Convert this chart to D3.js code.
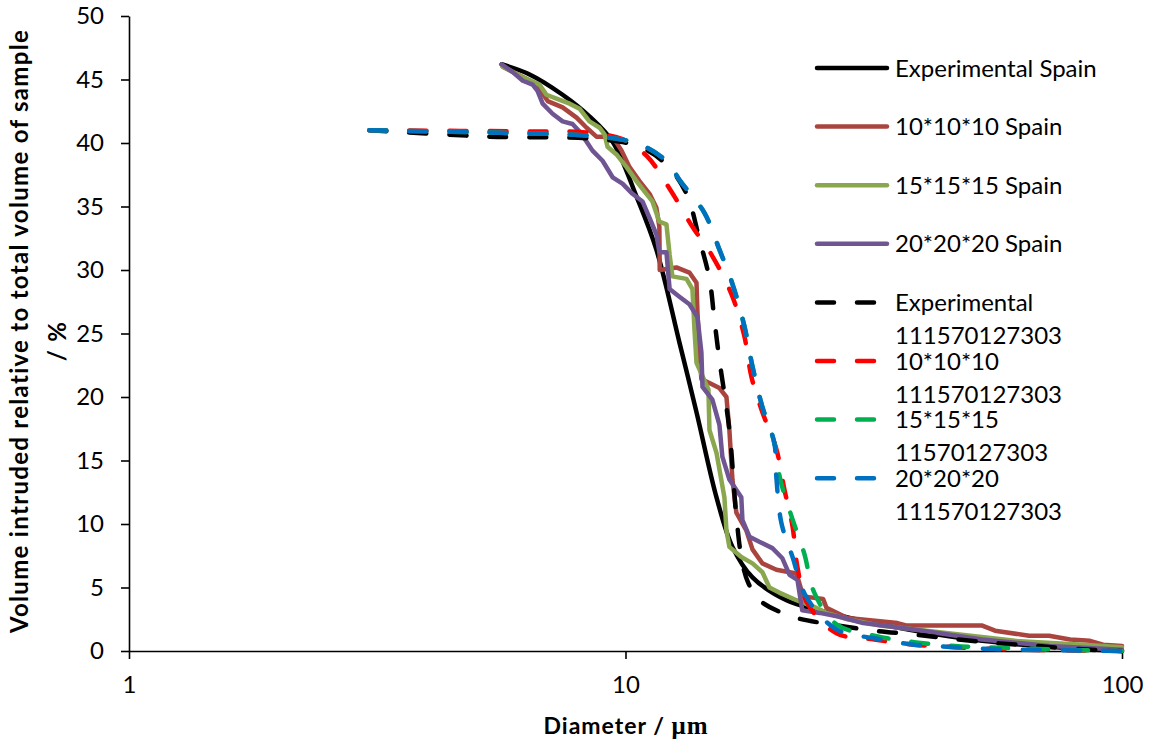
<!DOCTYPE html>
<html>
<head>
<meta charset="utf-8">
<script src="https://cdn.jsdelivr.net/npm/d3@7"></script>
<style>
  body { margin: 0; background: #fff; }
  svg { display: block; font-family: Lato, "Open Sans", sans-serif; }
</style>
</head>
<body>
<div id="chart"></div>
<script>
// Each series: [diameter µm, volume %]
const expSpain = [
  [5.63, 46.2], [6.41, 45.4], [7.47, 43.8], [8.46, 42.1], [9.42, 40.1],
  [10.52, 35.8], [11.54, 31.6], [12.84, 24.3], [13.9, 18.8], [15.25, 12.1],
  [16.42, 8.2], [18.02, 5.8], [21.1, 4.0], [24.6, 3.2], [32.6, 2.1],
  [52.3, 0.8], [100, 0]
];
const sim10Spain = [
  [5.66, 46.0], [6.21, 45.2], [6.62, 44.6], [6.97, 43.3], [7.47, 42.8],
  [7.97, 42.0], [8.35, 41.2], [8.74, 40.5], [9.42, 40.5], [9.82, 39.4],
  [10.19, 38.1], [10.67, 37.0], [11.18, 36.0], [11.54, 34.9], [11.7, 33.4],
  [11.72, 30.0], [12.66, 30.2], [13.45, 29.8], [13.9, 29.0], [13.96, 26.7],
  [14.09, 23.5], [14.22, 21.4], [14.76, 21.1], [15.46, 20.7], [15.97, 20.0],
  [16.19, 17.4], [16.42, 13.5], [16.72, 10.9], [17.51, 9.5], [18.02, 8.0],
  [18.87, 6.9], [20.13, 6.4], [22.1, 6.1], [22.8, 4.3], [25.0, 4.1],
  [25.4, 3.4], [28.0, 2.6], [35.3, 2.2], [36.9, 2.0], [52.3, 2.0],
  [55.5, 1.6], [65.0, 1.2], [71.3, 1.2], [78.6, 0.9], [86.2, 0.8],
  [91.6, 0.5], [100, 0.4]
];
const sim15Spain = [
  [5.66, 46.0], [6.21, 45.2], [6.71, 44.6], [6.93, 43.8], [7.26, 43.5],
  [7.72, 43.1], [8.08, 42.7], [8.46, 41.7], [8.87, 41.2], [9.07, 40.7],
  [9.2, 39.7], [9.59, 39.1], [10.05, 38.1], [10.52, 37.0], [11.02, 36.0],
  [11.33, 35.4], [11.7, 33.8], [12.09, 33.6], [12.27, 31.2], [12.43, 29.5],
  [13.27, 29.3], [13.64, 28.5], [13.77, 25.3], [13.9, 22.7], [14.69, 20.6],
  [14.76, 17.4], [15.25, 15.6], [15.82, 12.1], [15.97, 9.5], [16.19, 8.2],
  [17.11, 7.4], [18.02, 6.9], [18.87, 6.2], [19.49, 5.0], [20.4, 4.6],
  [22.1, 4.0], [23.9, 3.5], [25.4, 3.0], [28.0, 2.5], [32.6, 2.0],
  [44.7, 1.4], [60.9, 0.8], [83.5, 0.5], [100, 0.3]
];
const sim20Spain = [
  [5.63, 46.2], [5.92, 45.6], [6.21, 44.9], [6.5, 44.6], [6.65, 44.1],
  [6.81, 43.1], [7.13, 42.3], [7.47, 41.7], [7.82, 41.5], [8.08, 40.9],
  [8.35, 40.1], [8.58, 39.4], [8.99, 38.6], [9.42, 37.3], [9.86, 36.8],
  [10.33, 36.0], [10.82, 35.4], [11.18, 34.1], [11.54, 32.8], [11.7, 31.4],
  [12.09, 31.4], [12.27, 28.5], [12.84, 27.9], [13.45, 27.3], [13.96, 26.3],
  [14.22, 23.5], [14.29, 20.8], [14.96, 19.8], [15.46, 17.8], [15.67, 15.3],
  [16.19, 13.5], [17.11, 12.1], [17.2, 10.3], [17.77, 9.0], [18.6, 8.6],
  [19.76, 8.1], [20.7, 7.3], [21.4, 6.0], [22.2, 5.6], [22.7, 3.2],
  [24.6, 3.0], [27.0, 2.7], [30.1, 2.2], [38.1, 1.7], [52.3, 0.9],
  [71.3, 0.4], [100, 0.1]
];
const exp111 = [
  [3.05, 41.0], [5.33, 40.5], [8.87, 40.3], [10.67, 39.7], [12.09, 38.3],
  [13.27, 36.0], [14.09, 32.4], [14.76, 29.3], [15.1, 26.1], [15.46, 22.9],
  [16.19, 17.4], [16.72, 10.6], [17.2, 6.9], [17.7, 5.3], [18.6, 4.0],
  [21.7, 2.7], [25.9, 2.1], [31.7, 1.6], [38.1, 1.3], [46.8, 0.9],
  [56.6, 0.6], [67.1, 0.4], [80.8, 0.16], [100, 0]
];
const sim10_111 = [
  [3.05, 41.0], [6.81, 40.9], [8.19, 40.85], [9.86, 40.3], [11.02, 39.0],
  [12.27, 36.4], [13.64, 33.4], [14.96, 31.1], [16.42, 27.9], [17.35, 24.8],
  [17.93, 21.6], [18.87, 18.8], [20.13, 15.9], [20.9, 12.7], [21.7, 9.8],
  [22.2, 6.6], [23.2, 3.8], [26.6, 1.4], [31.7, 0.9], [38.1, 0.5],
  [46.1, 0.3], [56.6, 0.15], [80.8, 0.04], [100, 0]
];
const sim15_115 = [
  [3.05, 41.0], [5.58, 40.8], [8.87, 40.5], [10.67, 39.9], [12.15, 38.5],
  [12.84, 37.1], [14.42, 34.5], [15.46, 31.6], [16.42, 28.9], [17.35, 25.6],
  [18.02, 22.4], [18.87, 19.2], [19.94, 16.4], [20.5, 13.5], [21.6, 10.6],
  [22.9, 7.7], [24.0, 4.6], [26.6, 2.1], [31.7, 1.2], [38.1, 0.7],
  [46.1, 0.4], [56.6, 0.25], [80.8, 0.08], [100, 0]
];
const sim20_111 = [
  [3.05, 41.0], [5.58, 40.8], [8.87, 40.5], [10.67, 39.9], [12.15, 38.5],
  [12.84, 37.1], [14.42, 34.5], [15.46, 31.6], [16.42, 28.9], [17.35, 25.6],
  [18.02, 22.4], [18.87, 19.2], [19.94, 16.4], [20.13, 13.7], [20.6, 10.1],
  [21.7, 7.4], [23.1, 4.3], [26.6, 1.7], [31.7, 1.0], [38.1, 0.5],
  [46.1, 0.3], [55.5, 0.15], [100, 0]
];

const seriesNames = [
  ["Experimental Spain"], ["10*10*10 Spain"], ["15*15*15 Spain"], ["20*20*20 Spain"],
  ["Experimental", "111570127303"], ["10*10*10", "111570127303"],
  ["15*15*15", "11570127303"], ["20*20*20", "111570127303"]
];
const seriesData = [expSpain, sim10Spain, sim15Spain, sim20Spain, exp111, sim10_111, sim15_115, sim20_111];
const seriesColors = ["#000000", "#A9443F", "#8AA64E", "#6F5592", "#000000", "#FF0000", "#00B050", "#0070C0"];
const seriesDashed = [false, false, false, false, true, true, true, true];
const seriesSmooth = [true, false, false, false, true, true, true, true];

const yTicks = [0, 5, 10, 15, 20, 25, 30, 35, 40, 45, 50];
const xTicks = [1, 10, 100];

const width = 1152, height = 744;
const margin = { top: 16, right: 30, bottom: 93, left: 129 };

const xS = d3.scaleLog().domain([1, 100]).range([margin.left, 1122]);
const yS = d3.scaleLinear().domain([0, 50]).range([height - margin.bottom, margin.top]);

const svg = d3.select("#chart").append("svg")
  .attr("width", width)
  .attr("height", height)
  .attr("viewBox", [0, 0, width, height]);

// y axis
svg.append("g")
  .attr("transform", `translate(${margin.left},0)`)
  .call(d3.axisLeft(yS).tickValues(yTicks).tickSize(8).tickPadding(17).tickSizeOuter(0))
  .call((g) => g.selectAll("path, line").attr("stroke", "#000").attr("stroke-width", 1.6))
  .call((g) => g.selectAll("text").attr("font-size", 24).attr("font-family", "Lato, sans-serif").attr("fill", "#000"));

// x axis
svg.append("g")
  .attr("transform", `translate(0,${yS(0)})`)
  .call(d3.axisBottom(xS).tickValues(xTicks).tickFormat(d3.format("d")).tickSize(8).tickPadding(17).tickSizeOuter(0))
  .call((g) => g.selectAll("path, line").attr("stroke", "#000").attr("stroke-width", 1.6))
  .call((g) => g.selectAll("text").attr("font-size", 24).attr("font-family", "Lato, sans-serif").attr("fill", "#000"));

// lines
const line = d3.line().x((d) => xS(d[0])).y((d) => yS(d[1]));

seriesData.forEach((data, i) => {
  svg.append("path")
    .datum(data)
    .attr("fill", "none")
    .attr("stroke", seriesColors[i])
    .attr("stroke-width", 4.5)
    .attr("stroke-linejoin", "round")
    .attr("stroke-linecap", "round")
    .attr("stroke-dasharray", seriesDashed[i] ? "17,23" : null)
    .attr("d", line.curve(seriesSmooth[i] ? d3.curveCatmullRom.alpha(0.5) : d3.curveLinear));
});

// legend
const legend = svg.append("g").attr("transform", "translate(817,68)");
seriesNames.forEach((lines, i) => {
  const gy = i * 58.6;
  legend.append("line")
    .attr("x1", 0).attr("x2", 70)
    .attr("y1", gy).attr("y2", gy)
    .attr("stroke", seriesColors[i])
    .attr("stroke-width", 4.5)
    .attr("stroke-linecap", "round")
    .attr("stroke-dasharray", seriesDashed[i] ? "17,23" : null);
  lines.forEach((t, j) => {
    legend.append("text")
      .attr("x", 78)
      .attr("y", gy + j * 33)
      .attr("dy", "0.36em")
      .attr("font-size", 24)
      .attr("fill", "#000")
      .text(t);
  });
});

// axis titles
svg.append("text")
  .attr("transform", `translate(28,331) rotate(-90)`)
  .attr("text-anchor", "middle")
  .attr("font-size", 24)
  .attr("font-weight", "bold")
  .attr("letter-spacing", 1.3)
  .text("Volume intruded relative to total volume of sample");
svg.append("text")
  .attr("transform", `translate(66,341) rotate(-90)`)
  .attr("text-anchor", "middle")
  .attr("font-size", 24)
  .attr("font-weight", "bold")
  .attr("letter-spacing", 1.3)
  .text("/ %");

const xt = svg.append("text")
  .attr("x", 626)
  .attr("y", 734)
  .attr("text-anchor", "middle")
  .attr("font-size", 23)
  .attr("font-weight", "bold")
  .attr("letter-spacing", 1);
xt.append("tspan").text("Diameter / ");
xt.append("tspan").attr("font-family", "Liberation Serif, serif").attr("font-size", 25).text("μm");
</script>
</body>
</html>
